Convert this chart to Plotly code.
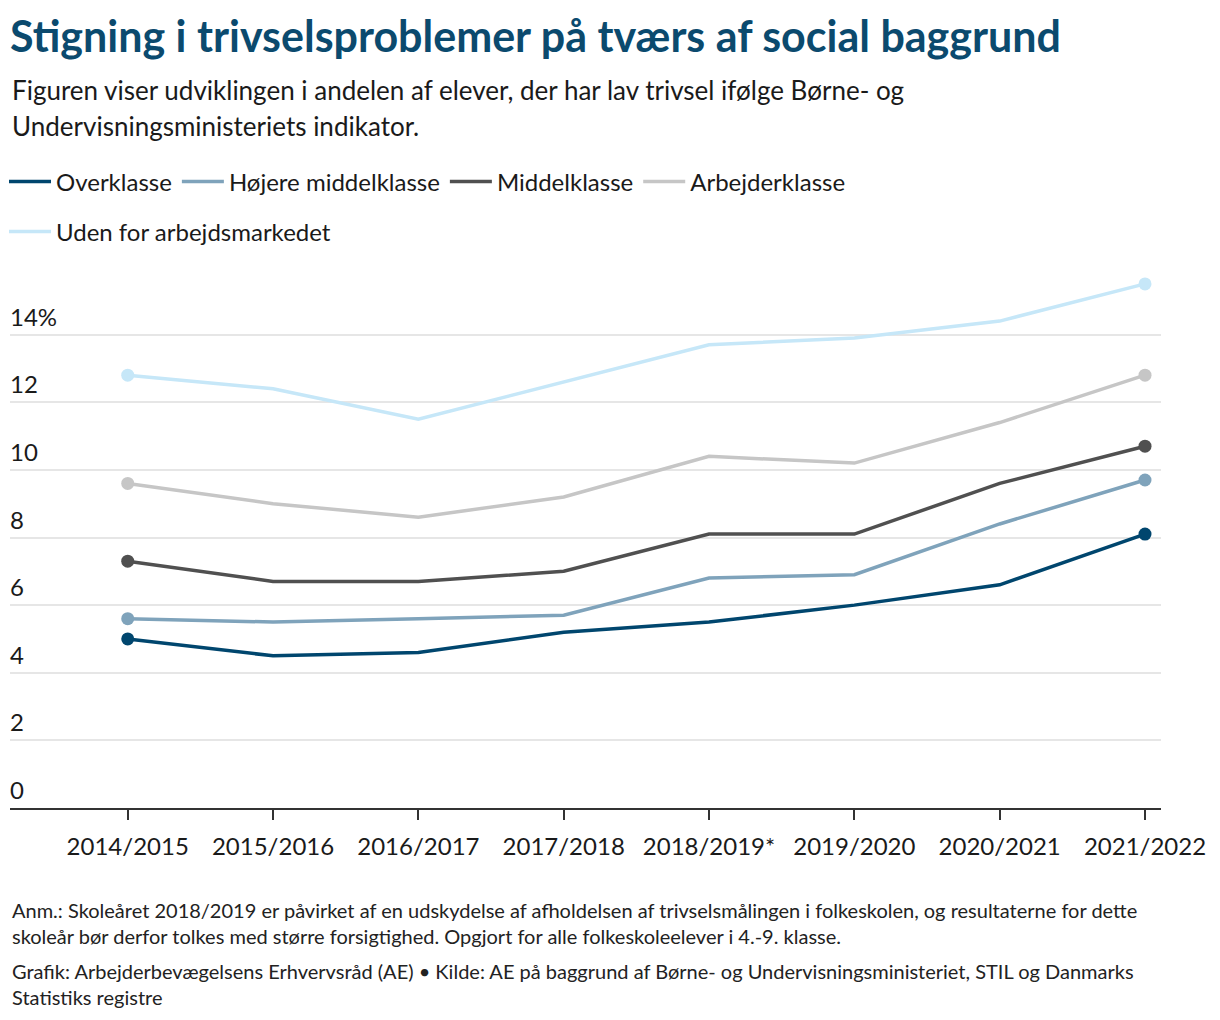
import plotly.graph_objects as go

# ---- data ----
categories = ["2014/2015", "2015/2016", "2016/2017", "2017/2018",
              "2018/2019*", "2019/2020", "2020/2021", "2021/2022"]
overklasse = [5.0, 4.5, 4.6, 5.2, 5.5, 6.0, 6.6, 8.1]
hojere_middelklasse = [5.6, 5.5, 5.6, 5.7, 6.8, 6.9, 8.4, 9.7]
middelklasse = [7.3, 6.7, 6.7, 7.0, 8.1, 8.1, 9.6, 10.7]
arbejderklasse = [9.6, 9.0, 8.6, 9.2, 10.4, 10.2, 11.4, 12.8]
uden_for = [12.8, 12.4, 11.5, 12.6, 13.7, 13.9, 14.4, 15.5]

series_names = ["Overklasse", "Højere middelklasse", "Middelklasse",
                "Arbejderklasse", "Uden for arbejdsmarkedet"]
series_values = [overklasse, hojere_middelklasse, middelklasse,
                 arbejderklasse, uden_for]
series_colors = ["#00466e", "#7fa3bb", "#505050", "#c6c6c6", "#c6e7f8"]
series_legend = ["legend", "legend", "legend", "legend", "legend2"]

y_tick_vals = [0, 2, 4, 6, 8, 10, 12, 14]
y_tick_text = ["0", "2", "4", "6", "8", "10", "12", "14%"]

title = "Stigning i trivselsproblemer på tværs af social baggrund"
subtitle_lines = ["Figuren viser udviklingen i andelen af elever, der har lav trivsel ifølge Børne- og",
                  "Undervisningsministeriets indikator."]
note = ("Anm.: Skoleåret 2018/2019 er påvirket af en udskydelse af afholdelsen af trivselsmålingen i folkeskolen, og resultaterne for dette<br>"
        "skoleår bør derfor tolkes med større forsigtighed. Opgjort for alle folkeskoleelever i 4.-9. klasse.")
source = ("Grafik: Arbejderbevægelsens Erhvervsråd (AE) • Kilde: AE på baggrund af Børne- og Undervisningsministeriet, STIL og Danmarks<br>"
          "Statistiks registre")

# ---- layout constants ----
W, H = 1220, 1020
M_L, M_R, M_T, M_B = 10, 59, 267, 212
FONT = "Lato"
PLOT_H = H - M_T - M_B


def paper_y(px):
    return (H - M_B - px) / PLOT_H


fig = go.Figure()

for name, vals, col, leg in zip(series_names, series_values, series_colors, series_legend):
    fig.add_trace(go.Scatter(
        x=categories, y=vals, mode="lines", name=name,
        line=dict(color=col, width=3.5), legend=leg,
        hoverinfo="skip"))

for name, vals, col in zip(series_names, series_values, series_colors):
    fig.add_trace(go.Scatter(
        x=[categories[0], categories[-1]], y=[vals[0], vals[-1]],
        mode="markers", marker=dict(color=col, size=13),
        showlegend=False, hoverinfo="skip"))

annotations = []
for v, t in zip(y_tick_vals, y_tick_text):
    annotations.append(dict(
        x=0, xref="paper", y=v, yref="y", text=t, showarrow=False,
        xanchor="left", yanchor="bottom", yshift=2, xshift=-2,
        font=dict(family=FONT, size=24, color="#1a1a1a")))

for line, ypx in zip(subtitle_lines, [90, 126]):
    annotations.append(dict(
        x=0, xref="paper", y=paper_y(ypx), yref="paper", text=line,
        showarrow=False, xanchor="left", yanchor="middle", align="left",
        font=dict(family=FONT, size=26, color="#1a1a1a")))
annotations.append(dict(
    x=0, xref="paper", y=paper_y(923), yref="paper", text=note,
    showarrow=False, xanchor="left", yanchor="middle", align="left",
    font=dict(family=FONT, size=20, color="#222222")))
annotations.append(dict(
    x=0, xref="paper", y=paper_y(984), yref="paper", text=source,
    showarrow=False, xanchor="left", yanchor="middle", align="left",
    font=dict(family=FONT, size=20, color="#222222")))

fig.update_layout(
    width=W, height=H,
    margin=dict(l=M_L, r=M_R, t=M_T, b=M_B),
    paper_bgcolor="white", plot_bgcolor="white",
    font=dict(family=FONT, color="#1a1a1a"),
    title=dict(text="<b>" + title + "</b>", x=0, xref="paper", xanchor="left",
               y=1 - 37 / H, yref="container", yanchor="middle",
               font=dict(family=FONT, size=43, color="#0b4a6e")),
    xaxis=dict(type="category", range=[-0.81, 7.11],
               showgrid=False, showline=True, linecolor="#333333", linewidth=2,
               ticks="outside", ticklen=10, tickwidth=2, tickcolor="#333333",
               tickfont=dict(family=FONT, size=24, color="#1a1a1a"),
               ticklabelstandoff=6),
    yaxis=dict(range=[0, 16], tickvals=y_tick_vals, showticklabels=False,
               showgrid=True, gridcolor="#e6e6e6", gridwidth=2,
               zeroline=False, showline=False, fixedrange=True),
    legend=dict(orientation="h", x=4 / W, xref="container", xanchor="left",
                y=1 - 182 / H, yref="container", yanchor="middle",
                font=dict(family=FONT, size=24, color="#1a1a1a"),
                itemwidth=42, traceorder="normal", bgcolor="rgba(0,0,0,0)"),
    legend2=dict(orientation="h", x=4 / W, xref="container", xanchor="left",
                 y=1 - 232 / H, yref="container", yanchor="middle",
                 font=dict(family=FONT, size=24, color="#1a1a1a"),
                 itemwidth=42, bgcolor="rgba(0,0,0,0)"),
    annotations=annotations,
    showlegend=True,
)

fig.write_html("out.html", config={"displayModeBar": False},
               post_script="document.body.style.margin='0';document.body.style.overflow='hidden';")
